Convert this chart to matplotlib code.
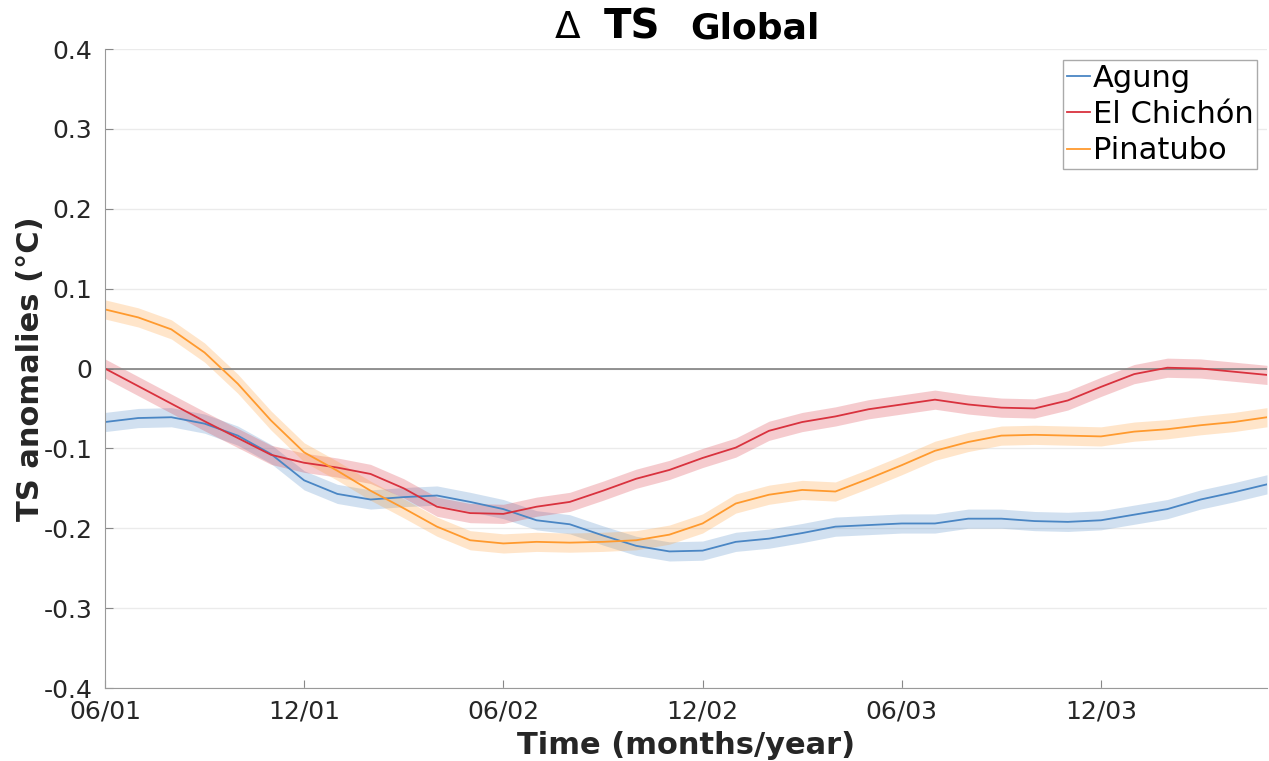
import numpy as np
import matplotlib
matplotlib.use("Agg")
import matplotlib.pyplot as plt

months = np.arange(36)
tick_pos = [0, 6, 12, 18, 24, 30]
tick_labels = ["06/01", "12/01", "06/02", "12/02", "06/03", "12/03"]

agung = [-0.067, -0.062, -0.061, -0.069, -0.084, -0.107, -0.140, -0.157, -0.164, -0.161,
         -0.159, -0.167, -0.176, -0.190, -0.195, -0.209, -0.222, -0.229, -0.228, -0.217,
         -0.213, -0.206, -0.198, -0.196, -0.194, -0.194, -0.188, -0.188, -0.191, -0.192,
         -0.190, -0.183, -0.176, -0.164, -0.155, -0.145]
chichon = [0.000, -0.022, -0.044, -0.066, -0.087, -0.108, -0.118, -0.124, -0.132, -0.150,
           -0.173, -0.181, -0.182, -0.173, -0.167, -0.153, -0.138, -0.127, -0.112, -0.099,
           -0.078, -0.067, -0.060, -0.051, -0.045, -0.039, -0.045, -0.049, -0.050, -0.040,
           -0.023, -0.007, 0.001, 0.000, -0.004, -0.008]
pinatubo = [0.074, 0.064, 0.049, 0.020, -0.019, -0.065, -0.105, -0.128, -0.153, -0.175,
            -0.198, -0.215, -0.219, -0.217, -0.218, -0.217, -0.215, -0.208, -0.194, -0.169,
            -0.158, -0.152, -0.154, -0.138, -0.121, -0.103, -0.092, -0.084, -0.083, -0.084,
            -0.085, -0.079, -0.076, -0.071, -0.067, -0.061]
band = 0.012

names = ["Agung", "El Chichón", "Pinatubo"]
colors = ["#4a86c4", "#d9323e", "#ff9a2e"]
series = [agung, chichon, pinatubo]

fig = plt.figure(figsize=(12.69, 7.61), dpi=100)
ax = fig.add_axes([0.0827, 0.0959, 0.9157, 0.8397])

for name, col, vals in zip(names, colors, series):
    v = np.array(vals)
    ax.fill_between(months, v - band, v + band, color=col, alpha=0.25, lw=0)
    ax.plot(months, v, color=col, lw=1.3, label=name)

ax.axhline(0, color="#808080", lw=1.2, zorder=1)

ax.set_xlim(0, 35)
ax.set_ylim(-0.4, 0.4)
ax.set_yticks(np.arange(-0.4, 0.41, 0.1))
ax.set_yticklabels(["-0.4", "-0.3", "-0.2", "-0.1", "0", "0.1", "0.2", "0.3", "0.4"])
ax.set_xticks(tick_pos)
ax.set_xticklabels(tick_labels)
ax.tick_params(axis="both", direction="in", labelsize=18, colors="#888888",
               labelcolor="#262626", length=6)
ax.tick_params(axis="y", pad=9)
ax.tick_params(axis="x", pad=8)
ax.yaxis.grid(True, color="#ebebeb", lw=1)
ax.set_axisbelow(True)
for s in ["top", "right"]:
    ax.spines[s].set_visible(False)
for s in ["left", "bottom"]:
    ax.spines[s].set_color("#999999")

ax.set_xlabel("Time (months/year)", fontsize=22, fontweight="bold", labelpad=6,
              color="#262626")
ax.set_ylabel("TS anomalies (°C)", fontsize=22, fontweight="bold", labelpad=-1,
              color="#262626")

leg = ax.legend(loc="upper right", fontsize=22, handlelength=0.75, handletextpad=0.1,
                borderpad=0.12, labelspacing=0.24, borderaxespad=0.0, fancybox=False,
                framealpha=1, edgecolor="#aaaaaa", bbox_to_anchor=(0.9914, 0.9828))
leg.get_frame().set_linewidth(1.0)

fig.text(0.4374, 0.950, "Δ", fontsize=27, ha="left", va="baseline")
fig.text(0.4760, 0.950, "TS", fontsize=29, fontweight="bold", ha="left", va="baseline")
fig.text(0.5440, 0.950, "Global", fontsize=26, fontweight="bold", ha="left", va="baseline")

fig.savefig("out.png", dpi=100)
